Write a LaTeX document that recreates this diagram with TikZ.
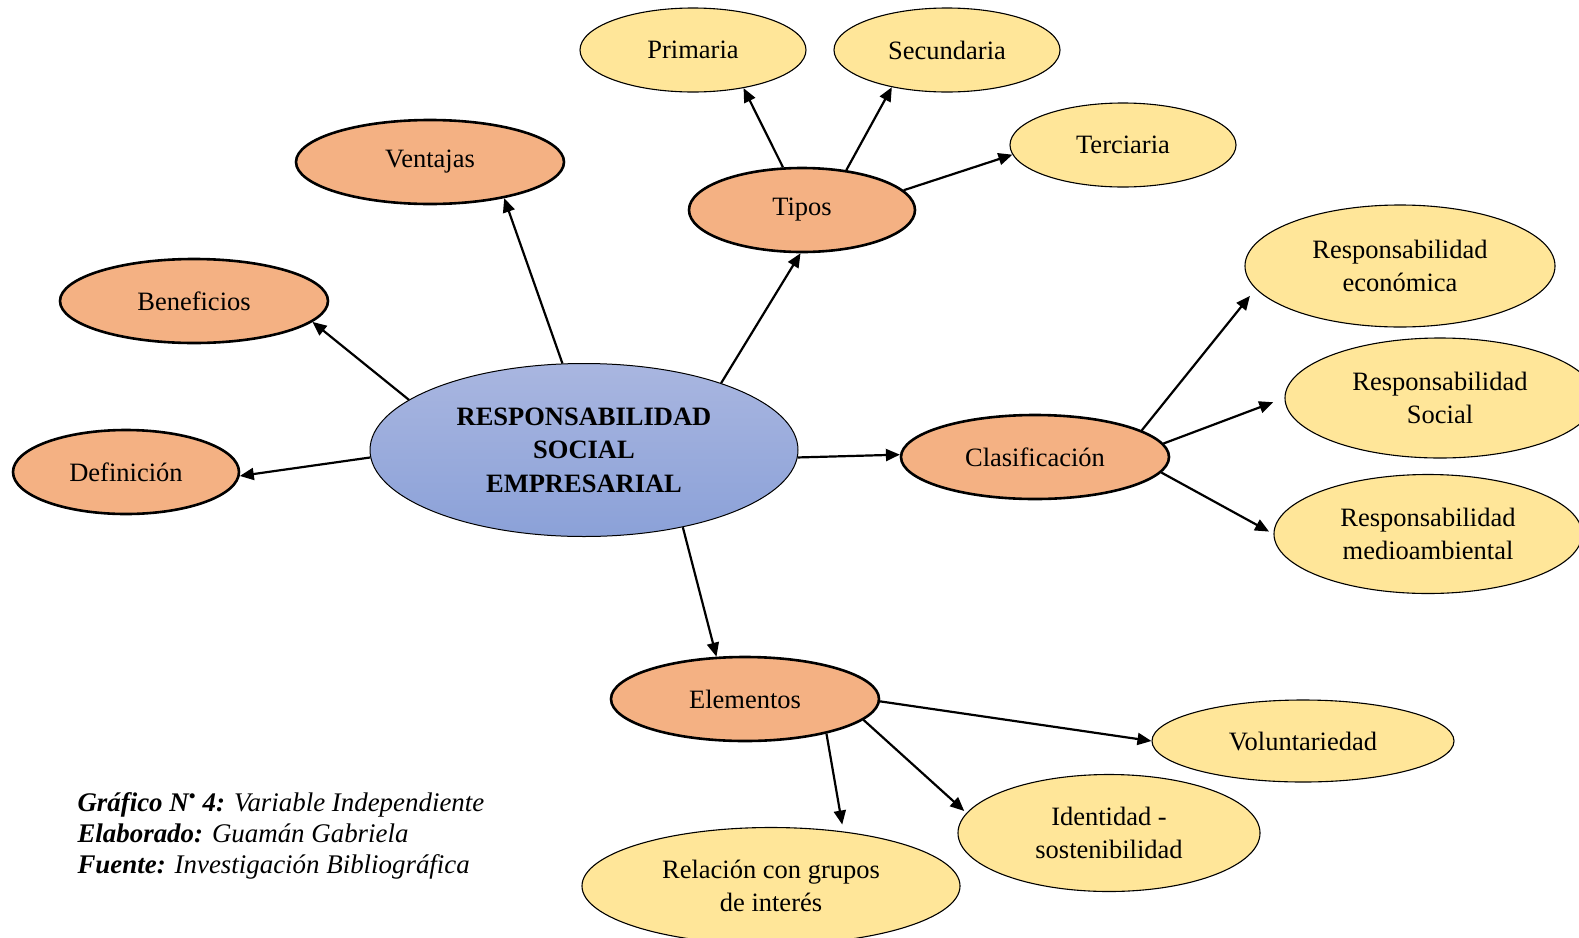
\documentclass[tikz,border=0pt]{standalone}
\usepackage{fontspec}
\setmainfont{Liberation Serif}
\usetikzlibrary{arrows.meta,shapes.geometric}
\definecolor{orng}{RGB}{244,177,131}
\definecolor{yel}{RGB}{255,230,153}
\definecolor{btop}{RGB}{169,182,224}
\definecolor{bbot}{RGB}{139,161,216}
\begin{document}
\begin{tikzpicture}[x=1pt,y=-1pt,
  base/.style={ellipse, inner sep=0pt, align=center, text=black, font=\fontsize{26.5}{33.5}\selectfont},
  mainnode/.style={base, draw=black, line width=1pt, top color=btop, bottom color=bbot, font=\bfseries\fontsize{26.5}{33.5}\selectfont},
  lvl/.style={base, draw=black, line width=2.6pt, fill=orng},
  leaf/.style={base, draw=black, line width=1.1pt, fill=yel},
  arr/.style={-{Triangle[length=14pt,width=12pt]}, line width=2.2pt},
  capt/.style={anchor=base west, font=\itshape\fontsize{26.9}{31}\selectfont}
]
\clip (0,0) rectangle (1579,937);
\fill[white] (0,0) rectangle (1579,937);

\node[mainnode, minimum width=428pt, minimum height=173pt] (c) at (584,450) {RESPONSABILIDAD\\SOCIAL\\EMPRESARIAL};

\node[lvl, minimum width=268pt, minimum height=84pt] (ven) at (430,162) {Ventajas};
\node[lvl, minimum width=268pt, minimum height=84pt] (ben) at (194,301) {Beneficios};
\node[lvl, minimum width=226pt, minimum height=84pt] (def) at (126,472) {Definición};
\node[lvl, minimum width=226pt, minimum height=84pt] (tip) at (802,210) {Tipos};
\node[lvl, minimum width=268pt, minimum height=84pt] (cla) at (1035,457) {Clasificación};
\node[lvl, minimum width=268pt, minimum height=84pt] (ele) at (745,699) {Elementos};

\node[leaf, minimum width=226pt, minimum height=84pt] (pri) at (693,50) {Primaria};
\node[leaf, minimum width=226pt, minimum height=84pt] (sec) at (947,50) {Secundaria};
\node[leaf, minimum width=226pt, minimum height=84pt] (ter) at (1123,145) {Terciaria};
\node[leaf, minimum width=310pt, minimum height=122pt] (eco) at (1400,266) {Responsabilidad\\económica};
\node[leaf, minimum width=310pt, minimum height=120pt] (soc) at (1440,398) {Responsabilidad\\Social};
\node[leaf, minimum width=308pt, minimum height=119pt] (med) at (1428,534) {Responsabilidad\\medioambiental};
\node[leaf, minimum width=302pt, minimum height=82pt] (vol) at (1303,741) {Voluntariedad};
\node[leaf, minimum width=302pt, minimum height=117pt] (ide) at (1109,833) {Identidad -\\sostenibilidad};
\node[leaf, minimum width=378pt, minimum height=117pt] (rel) at (771,886) {Relación con grupos\\de interés};

\draw[arr] (c.182) -- (def.-2);
\draw[arr] (c.164) -- (ben.-10);
\draw[arr] (c.104) -- (ven.-26);
\draw[arr] (c.26) -- (tip.-92);
\draw[arr] (c.-2) -- (cla.179);
\draw[arr] (c.-38) -- (ele.124);
\draw[arr] (tip.114) -- (pri.-37);
\draw[arr] (tip.42) -- (sec.214);
\draw[arr] (tip.11) -- (ter.185);
\draw[arr, shorten >=9pt] (cla.14) -- (eco.189);
\draw[arr, shorten >=12pt] (cla.6) -- (soc.west);
\draw[arr, shorten >=5pt] (cla.-7) -- (med.west);
\draw[arr] (ele.-1) -- (vol.west);
\draw[arr, shorten >=3pt] (ele.-10) -- (ide.172);
\draw[arr, shorten >=7pt] (ele.-23) -- (rel.37);

\node[capt] (cap1) at (74,811.5) {\textbf{Gráfico N\textsuperscript{•} 4:} Variable Independiente};
\node[capt] (cap2) at (74,842.5) {\textbf{Elaborado:} Guamán Gabriela};
\node[capt] (cap3) at (74,873) {\textbf{Fuente:} Investigación Bibliográfica};
\end{tikzpicture}
\end{document}
